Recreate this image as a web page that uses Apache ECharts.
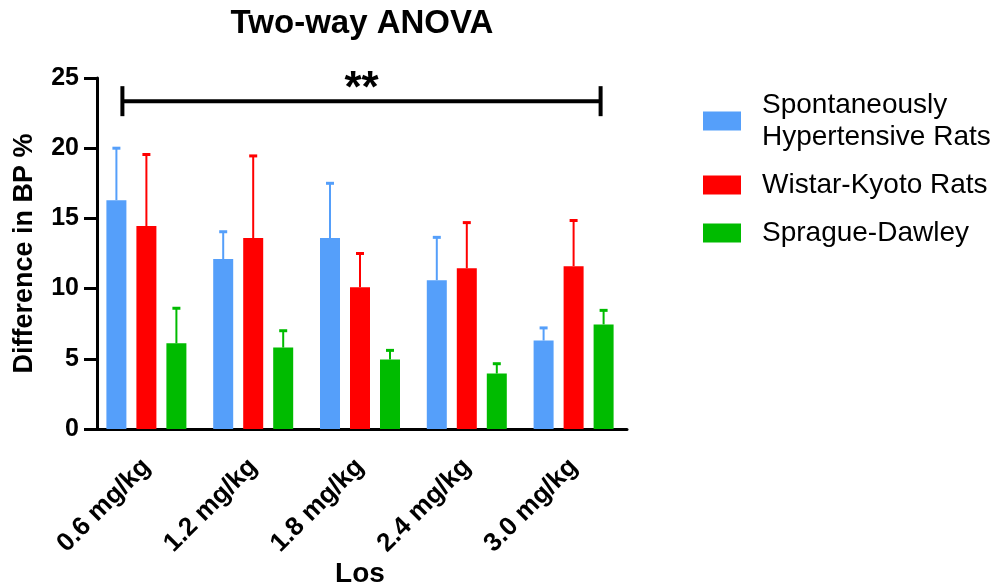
<!DOCTYPE html>
<html>
<head>
<meta charset="utf-8">
<script src="https://cdn.jsdelivr.net/npm/echarts@6/dist/echarts.min.js"></script>
<style>
html,body{margin:0;padding:0;background:#fff;}
#chart{width:1003px;height:586px;}
</style>
</head>
<body>
<div id="chart"></div>
<script>
const categories = ['0.6 mg/kg', '1.2 mg/kg', '1.8 mg/kg', '2.4 mg/kg', '3.0 mg/kg'];
const seriesNames = ['Spontaneously Hypertensive Rats', 'Wistar-Kyoto Rats', 'Sprague-Dawley'];
const shrMean = [16.3, 12.1, 13.6, 10.6, 6.3];
const shrErrTop = [20.0, 14.05, 17.5, 13.65, 7.2];
const wkyMean = [14.45, 13.6, 10.1, 11.45, 11.6];
const wkyErrTop = [19.55, 19.45, 12.5, 14.7, 14.85];
const sdMean = [6.1, 5.8, 4.95, 3.95, 7.45];
const sdErrTop = [8.6, 7.0, 5.6, 4.65, 8.45];
const yTicks = [0, 5, 10, 15, 20, 25];
const sigLabel = '**';
const sigLevel = 23.35;

const colors = ['#559ffa', '#ff0000', '#00bb00'];
const means = [shrMean, wkyMean, sdMean];
const errTops = [shrErrTop, wkyErrTop, sdErrTop];
const BAR_W = 20, BAR_STEP = 30;

const chart = echarts.init(document.getElementById('chart'));
const font = 'Liberation Sans, Arial, sans-serif';

const barSeries = seriesNames.map((n, i) => ({
  name: n, type: 'bar', data: means[i], barWidth: BAR_W, barGap: '50%',
  itemStyle: { color: colors[i] }, z: 3
}));
const errSeries = seriesNames.map((n, i) => ({
  name: n + ' err', type: 'custom', z: 2,
  data: means[i].map((m, k) => [k, m, errTops[i][k]]),
  renderItem: function (params, api) {
    const c = api.value(0);
    const lo = api.coord([c, api.value(1)]);
    const hi = api.coord([c, api.value(2)]);
    const x = lo[0] + (i - 1) * BAR_STEP;
    const st = { stroke: colors[i], lineWidth: 2 };
    return { type: 'group', children: [
      { type: 'line', shape: { x1: x, y1: lo[1], x2: x, y2: hi[1] }, style: st },
      { type: 'line', shape: { x1: x - 4, y1: hi[1], x2: x + 4, y2: hi[1] }, style: { stroke: colors[i], lineWidth: 3 } }
    ]};
  }
}));

const option = {
  animation: false,
  textStyle: { fontFamily: font },
  title: {
    text: 'Two-way ANOVA', left: 357, top: 2, textAlign: 'center',
    textStyle: { fontFamily: font, fontSize: 33, fontWeight: 'bold', color: '#000' }
  },
  legend: {
    data: seriesNames, orient: 'vertical', left: 703, top: 89, padding: 0,
    itemWidth: 38, itemHeight: 19, itemGap: 16, icon: 'rect',
    formatter: n => n === seriesNames[0] ? 'Spontaneously\nHypertensive Rats' : n,
    textStyle: { fontFamily: font, fontSize: 28, color: '#000', lineHeight: 32, padding: [0, 0, 0, 16] }
  },
  grid: { left: 93, top: 78, width: 534, height: 351, containLabel: false, outerBoundsMode: 'none' },
  xAxis: {
    type: 'category', data: categories,
    name: 'Los', nameLocation: 'middle', nameGap: 131, nameMoveOverlap: false,
    nameTextStyle: { fontFamily: font, fontSize: 28, fontWeight: 'bold', color: '#000' },
    axisLine: { lineStyle: { color: '#000', width: 3 } },
    axisTick: { alignWithLabel: true, length: 12, lineStyle: { color: '#000', width: 3 } },
    axisLabel: { rotate: 45, fontFamily: font, fontSize: 26, fontWeight: 'bold', color: '#000', margin: 34 }
  },
  yAxis: {
    type: 'value', min: 0, max: 25, interval: 5, offset: -4,
    name: 'Difference in BP %', nameLocation: 'middle', nameRotate: 90, nameGap: 59,
    nameTextStyle: { fontFamily: font, fontSize: 27, fontWeight: 'bold', color: '#000' },
    axisLine: { show: true, lineStyle: { color: '#000', width: 3 } },
    axisTick: { show: true, length: 13, lineStyle: { color: '#000', width: 3 } },
    splitLine: { show: false },
    axisLabel: { fontFamily: font, fontSize: 25, fontWeight: 'bold', color: '#000', margin: 18,
      formatter: v => yTicks.indexOf(v) >= 0 ? String(v) : '' }
  },
  series: barSeries.concat(errSeries)
};
chart.setOption(option);

// significance bracket
const pL = chart.convertToPixel({ xAxisIndex: 0, yAxisIndex: 0 }, [0, sigLevel]);
const pR = chart.convertToPixel({ xAxisIndex: 0, yAxisIndex: 0 }, [categories.length - 1, sigLevel]);
const xL = pL[0] - 24, xR = pR[0] + 27, y = pL[1];
chart.setOption({
  graphic: [
    { type: 'line', shape: { x1: xL, y1: y, x2: xR, y2: y }, style: { stroke: '#000', lineWidth: 4 } },
    { type: 'line', shape: { x1: xL, y1: y - 15, x2: xL, y2: y + 15 }, style: { stroke: '#000', lineWidth: 4 } },
    { type: 'line', shape: { x1: xR, y1: y - 15, x2: xR, y2: y + 15 }, style: { stroke: '#000', lineWidth: 4 } },
    { type: 'text', x: (xL + xR) / 2, y: y + 11, style: { text: sigLabel, font: 'bold 44px ' + font, fill: '#000', textAlign: 'center', textVerticalAlign: 'bottom' } }
  ]
});
</script>
</body>
</html>
